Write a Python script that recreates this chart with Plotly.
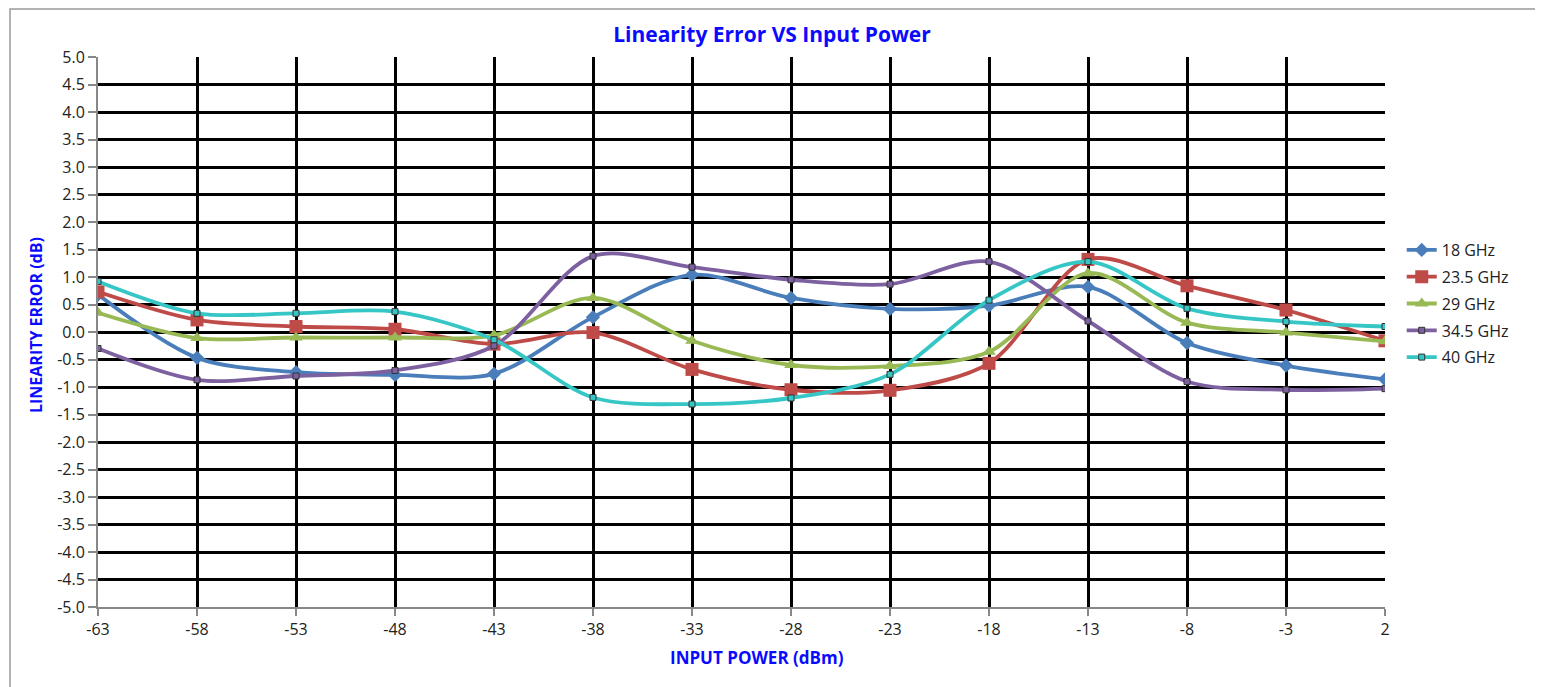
import plotly.graph_objects as go

x_dbm = [-63, -58, -53, -48, -43, -38, -33, -28, -23, -18, -13, -8, -3, 2]
ghz_18 = [0.68, -0.47, -0.73, -0.78, -0.76, 0.27, 1.04, 0.62, 0.42, 0.48, 0.82, -0.20, -0.61, -0.86]
ghz_23_5 = [0.73, 0.22, 0.10, 0.05, -0.22, -0.01, -0.68, -1.05, -1.06, -0.57, 1.32, 0.84, 0.40, -0.16]
ghz_29 = [0.35, -0.11, -0.10, -0.10, -0.06, 0.62, -0.16, -0.60, -0.62, -0.36, 1.07, 0.17, -0.01, -0.17]
ghz_34_5 = [-0.30, -0.87, -0.80, -0.70, -0.25, 1.38, 1.18, 0.95, 0.87, 1.28, 0.20, -0.90, -1.05, -1.03]
ghz_40 = [0.92, 0.34, 0.34, 0.37, -0.14, -1.19, -1.31, -1.20, -0.77, 0.58, 1.28, 0.43, 0.19, 0.10]

names = ["18 GHz", "23.5 GHz", "29 GHz", "34.5 GHz", "40 GHz"]
series = [ghz_18, ghz_23_5, ghz_29, ghz_34_5, ghz_40]
colors = ["#4a7ebb", "#be4b48", "#98b954", "#7d60a0", "#36c6c6"]
symbols = ["diamond", "square", "triangle-up", "square", "square"]
sizes = [11, 13, 12, 6, 6]
mline = [0, 0, 0, 1, 1]

y_ticks = [round(-5 + 0.5 * i, 1) for i in range(21)]

fig = go.Figure()
for n, s, c, sym, sz, ml in zip(names, series, colors, symbols, sizes, mline):
    fig.add_trace(go.Scatter(
        x=x_dbm, y=s, name=n, mode="lines+markers", legendgroup=n,
        line=dict(color=c, width=3.8, shape="spline", smoothing=0.9),
        marker=dict(symbol=sym, size=sz, color=c,
                    line=dict(color="#333333" if ml else c, width=ml)),
    ))

font_fam = "Open Sans, Liberation Sans, Arial, sans-serif"

# page offset of 8px (body margin) compensated in figure size/margins
W, H = 1535, 679

fig.update_layout(
    width=W, height=H,
    margin=dict(l=90, r=158, t=49, b=80),
    paper_bgcolor="white", plot_bgcolor="white",
    font=dict(family=font_fam, size=15, color="#222222"),
    title=dict(text="<b>Linearity Error VS Input Power</b>", x=764 / W, xref="container",
               xanchor="center", y=1 - 27 / H, yanchor="middle",
               font=dict(family=font_fam, size=21, color="#0a0aff")),
    showlegend=True,
    legend=dict(x=1.013, y=0.68, xanchor="left", yanchor="top",
                font=dict(size=16, color="#222222"), bgcolor="rgba(0,0,0,0)",
                tracegroupgap=3, itemwidth=30),
    xaxis=dict(range=[-63, 2], tickmode="array", tickvals=x_dbm,
               ticktext=[str(v) for v in x_dbm],
               showgrid=True, gridcolor="black", gridwidth=2.8, zeroline=False,
               showline=True, linecolor="#888888", linewidth=2,
               ticks="outside", tickcolor="#888888", ticklen=7, tickwidth=1.5,
               tickfont=dict(size=16, color="#222222")),
    yaxis=dict(range=[-5, 5], tickmode="array", tickvals=y_ticks,
               ticktext=[f"{v:.1f}" for v in y_ticks],
               showgrid=True, gridcolor="black", gridwidth=2.8, zeroline=False,
               showline=True, linecolor="#888888", linewidth=2,
               ticks="outside", tickcolor="#888888", ticklen=8, tickwidth=1.5,
               tickfont=dict(size=16, color="#222222")),
)

# Axis titles as annotations for precise placement
fig.add_annotation(text="<b>INPUT POWER (dBm)</b>", xref="paper", yref="paper",
                   x=(757 - 98) / 1287, y=(607 - 657) / 550, showarrow=False,
                   xanchor="center", yanchor="middle",
                   font=dict(family=font_fam, size=17, color="#0a0aff"))
fig.add_annotation(text="<b>LINEARITY ERROR (dB)</b>", xref="paper", yref="paper",
                   x=(36 - 98) / 1287, y=(607 - 325) / 550, showarrow=False,
                   textangle=-90, xanchor="center", yanchor="middle",
                   font=dict(family=font_fam, size=16, color="#0a0aff"))

# Outer chart border
fig.add_shape(type="rect", xref="paper", yref="paper",
              x0=(10 - 98) / 1287, x1=(1539 - 98) / 1287,
              y0=(607 - 695) / 550, y1=(607 - 9) / 550,
              line=dict(color="#999999", width=1.5), fillcolor="rgba(0,0,0,0)", layer="below")

fig.write_html("out.html")
